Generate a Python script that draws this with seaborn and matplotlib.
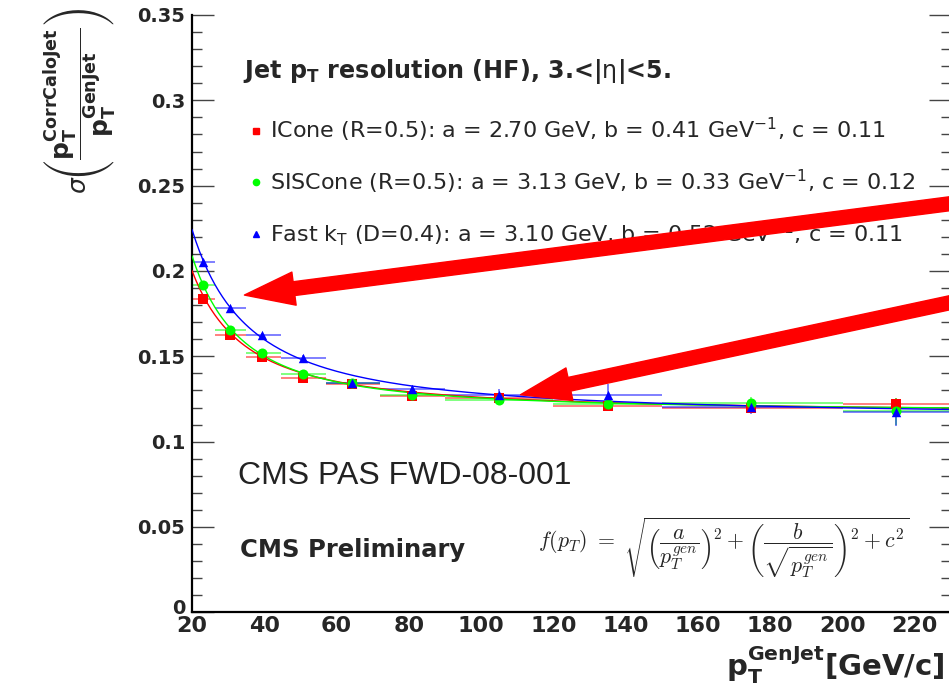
import numpy as np
import pandas as pd
import matplotlib
matplotlib.use("Agg")
import matplotlib.pyplot as plt
import seaborn as sns
from matplotlib.lines import Line2D
from matplotlib.ticker import MultipleLocator
from matplotlib.transforms import ScaledTranslation

# ---------------- data ----------------
algorithms = ["ICone", "SISCone", "FastKt"]
pt_centers = [23.0, 30.5, 39.5, 50.7, 64.2, 81.0, 105.0, 135.0, 174.7, 214.7]
bin_low = [20.0, 26.5, 35.0, 44.5, 57.0, 72.0, 90.0, 120.0, 150.0, 200.0]
bin_high = [26.5, 35.0, 44.5, 57.0, 72.0, 90.0, 120.0, 150.0, 200.0, 230.0]

res_icone = [0.1835, 0.1624, 0.1498, 0.1372, 0.1335, 0.1266, 0.1253, 0.1208, 0.1196, 0.1218]
res_siscone = [0.1919, 0.1653, 0.1518, 0.1398, 0.1345, 0.1271, 0.1243, 0.1222, 0.1224, 0.1178]
res_fastkt = [0.2051, 0.1781, 0.1624, 0.1490, 0.1345, 0.1306, 0.1276, 0.1276, 0.1202, 0.1172]

err_icone = [0.002, 0.0015, 0.0015, 0.0015, 0.0015, 0.0015, 0.002, 0.003, 0.003, 0.004]
err_siscone = [0.002, 0.0015, 0.0015, 0.0015, 0.0015, 0.0015, 0.002, 0.003, 0.004, 0.008]
err_fastkt = [0.002, 0.0015, 0.0015, 0.0015, 0.0015, 0.002, 0.003, 0.006, 0.004, 0.008]

# fit-curve parameters as drawn (a [GeV], b [GeV^1/2], c)
fit_a = [2.70, 3.13, 3.10]
fit_b = [0.41, 0.33, 0.52]
fit_c = [0.116, 0.117, 0.113]

legend_labels = [
    "ICone (R=0.5): a = 2.70 GeV, b = 0.41 GeV$^{\\mathrm{-1}}$, c = 0.11",
    "SISCone (R=0.5): a = 3.13 GeV, b = 0.33 GeV$^{\\mathrm{-1}}$, c = 0.12",
    "Fast k$_{\\mathrm{T}}$ (D=0.4): a = 3.10 GeV, b = 0.52 GeV$^{\\mathrm{-1}}$, c = 0.11",
]
x_ticks = [20, 40, 60, 80, 100, 120, 140, 160, 180, 200, 220]
y_ticks = [0, 0.05, 0.1, 0.15, 0.2, 0.25, 0.3, 0.35]
y_tick_labels = ["0", "0.05", "0.1", "0.15", "0.2", "0.25", "0.3", "0.35"]

colors = {"ICone": "#ff0000", "SISCone": "#00ff00", "FastKt": "#0000ff"}
markers = {"ICone": "s", "SISCone": "o", "FastKt": "^"}
sizes = {"ICone": 52, "SISCone": 52, "FastKt": 46}

res_all = {"ICone": res_icone, "SISCone": res_siscone, "FastKt": res_fastkt}
err_all = {"ICone": err_icone, "SISCone": err_siscone, "FastKt": err_fastkt}

rows = []
for algo in algorithms:
    for i, pt in enumerate(pt_centers):
        rows.append(dict(algo=algo, pt=pt, lo=bin_low[i], hi=bin_high[i],
                         res=res_all[algo][i], err=err_all[algo][i]))
df = pd.DataFrame(rows)

# fit functions f = sqrt((a/pt)^2 + (b/sqrt(pt))^2 + c^2)
pt_grid = np.linspace(20, 230, 400)
fit_rows = []
for k, algo in enumerate(algorithms):
    f = np.sqrt((fit_a[k] / pt_grid) ** 2 + (fit_b[k] / np.sqrt(pt_grid)) ** 2 + fit_c[k] ** 2)
    fit_rows.append(pd.DataFrame(dict(algo=algo, pt=pt_grid, f=f)))
fit_df = pd.concat(fit_rows, ignore_index=True)

# ---------------- style ----------------
sns.set_style("white")
plt.rcParams["font.family"] = ["DejaVu Sans"]
plt.rcParams["mathtext.fontset"] = "dejavusans"

W, H = 949, 690
fig = plt.figure(figsize=(W / 100, H / 100), dpi=100)
ax_left, ax_right = 192, 951
ax_top, ax_bot = 15, 612.3
ax = fig.add_axes([ax_left / W, 1 - ax_bot / H, (ax_right - ax_left) / W, (ax_bot - ax_top) / H])

for algo in algorithms:
    sub = df[df.algo == algo]
    ax.errorbar(sub.pt, sub.res,
                xerr=[sub.pt - sub.lo, sub.hi - sub.pt], yerr=sub.err,
                fmt="none", ecolor=colors[algo], elinewidth=1.4, alpha=0.5,
                capsize=0, zorder=2)

sns.lineplot(data=fit_df, x="pt", y="f", hue="algo", hue_order=algorithms,
             palette=colors, linewidth=1.0, legend=False, ax=ax, zorder=3,
             estimator=None)

for algo in algorithms:
    sub = df[df.algo == algo]
    sns.scatterplot(data=sub, x="pt", y="res", color=colors[algo],
                    marker=markers[algo], s=sizes[algo], linewidth=0,
                    legend=False, ax=ax, zorder=4)

ax.set_xlim(20, 230)
ax.set_ylim(0, 0.35)
ax.set_xticks(x_ticks)
ax.set_xticklabels([str(t) for t in x_ticks])
ax.set_yticks(y_ticks)
ax.set_yticklabels(y_tick_labels)
ax.xaxis.set_minor_locator(MultipleLocator(5))
ax.yaxis.set_minor_locator(MultipleLocator(0.01))

for s in ["top", "right"]:
    ax.spines[s].set_visible(False)
for s in ["left", "bottom"]:
    ax.spines[s].set_linewidth(1.6)
    ax.spines[s].set_color("black")

ax.tick_params(axis="y", which="major", direction="in", length=16, width=1.0,
               color="#444444", labelsize=14, pad=5, right=True, left=True)
ax.tick_params(axis="y", which="minor", direction="in", length=7.5, width=1.0,
               color="#444444", right=True, left=True)
ax.tick_params(axis="x", which="major", direction="in", length=13, width=1.0,
               color="#444444", labelsize=16, pad=3, top=False)
ax.tick_params(axis="x", which="minor", direction="in", length=6.5, width=1.0,
               color="#444444", top=False)
for lab in ax.get_xticklabels() + ax.get_yticklabels():
    lab.set_fontweight("bold")
# lift the "0" label a little, as in the reference
zero_lab = ax.get_yticklabels()[0]
zero_lab.set_transform(zero_lab.get_transform() + ScaledTranslation(0, 6 / 100, fig.dpi_scale_trans))

ax.set_xlabel("$\\mathbf{p}_{\\mathbf{T}}^{\\mathbf{GenJet}}$[GeV/c]",
              fontsize=21, fontweight="bold", ha="right")
ax.xaxis.set_label_coords((944 - ax_left) / (ax_right - ax_left), -0.055)
ax.xaxis.label.set_va("top")

ax.set_ylabel("$\\sigma\\left(\\dfrac{\\mathbf{p}_{\\mathbf{T}}^{\\mathbf{CorrCaloJet}}}"
              "{\\mathbf{p}_{\\mathbf{T}}^{\\mathbf{GenJet}}}\\right)$",
              fontsize=18, ha="right", va="center")
ax.yaxis.set_label_coords(-(ax_left - 80) / (ax_right - ax_left),
                          (ax_bot - 8) / (ax_bot - ax_top))

# legend
handles = [Line2D([], [], linestyle="none", marker=markers[a], color=colors[a],
                  markersize=4.5) for a in algorithms]
leg = ax.legend(handles, legend_labels, loc="upper left",
                bbox_to_anchor=(243 / W, 1 - 116 / H), bbox_transform=fig.transFigure,
                frameon=False, fontsize=16, handlelength=1.2, handletextpad=0.0,
                labelspacing=1.05, borderpad=0, borderaxespad=0)

fig.text(243 / W, 1 - 72 / H,
         "Jet p$_{\\mathbf{T}}$ resolution (HF), 3.<|$\\mathrm{\\eta}$|<5.",
         fontsize=17.2, fontweight="bold", ha="left", va="center")

fig.text(238 / W, 1 - 476 / H, "CMS PAS FWD-08-001", fontsize=23,
         family="Liberation Sans", color="#222222", ha="left", va="center")
fig.text(240 / W, 1 - 550 / H, "CMS Preliminary", fontsize=17.5,
         fontweight="bold", ha="left", va="center")

fig.text(724 / W, 1 - 548 / H,
         "$f(p_T)\\ =\\ \\sqrt{\\left(\\dfrac{a}{p_T^{gen}}\\right)^2+"
         "\\left(\\dfrac{b}{\\sqrt{p_T^{gen}}}\\right)^2+c^2}$",
         fontsize=15.7, math_fontfamily="cm", ha="center", va="center")

# red annotation arrows
arrow_kw = dict(color="#ff0000", width=10, headwidth=24, headlength=36, shrink=0)
ax.annotate("", xy=(34.5, 0.1859), xytext=(242, 0.2428),
            arrowprops=arrow_kw, annotation_clip=False, zorder=10)
ax.annotate("", xy=(110.9, 0.1275), xytext=(242, 0.1870),
            arrowprops=arrow_kw, annotation_clip=False, zorder=10)

fig.savefig("out.png", dpi=100)
